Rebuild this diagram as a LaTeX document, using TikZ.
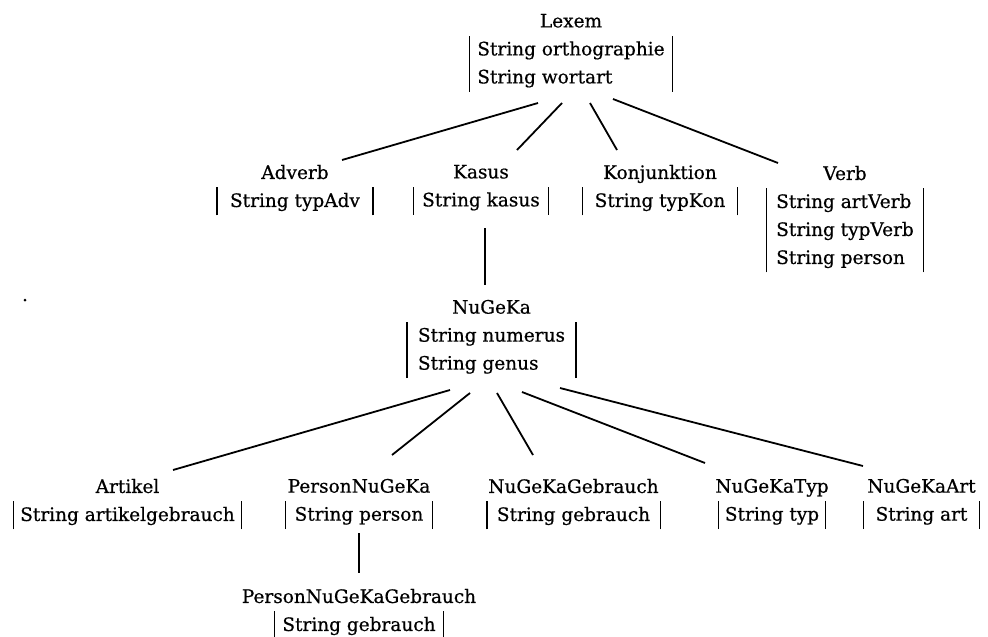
\documentclass[tikz,border=0pt]{standalone}
\usepackage{fontspec}
\setmainfont{DejaVu Serif}[FakeBold=0.6]
\setlength\arrayrulewidth{1.2pt}
% Attributkasten mit senkrechten Strichen links und rechts
\newcommand{\felder}[2]{{\setlength\tabcolsep{#1pt}\begin{tabular}[t]{|l|}#2\end{tabular}}}

\begin{document}
\begin{tikzpicture}[x=1pt, y=-1pt, line width=1.8pt,
	klasse/.style={anchor=north, inner sep=0pt, align=center, font=\fontsize{18.5}{28}\selectfont}]
	\useasboundingbox (0,0) rectangle (988,637);
	% Oberste Klasse
	\node[klasse] (lexem) at (571,13) {Lexem\\ \felder{8}{String orthographie\\ String wortart}};
	% Zweite Ebene
	\node[klasse] (adverb) at (295,164) {Adverb\\ \felder{13}{String typAdv}};
	\node[klasse] (kasus) at (481,164) {Kasus\\ \felder{9}{String kasus}};
	\node[klasse] (konjunktion) at (660,164) {Konjunktion\\ \felder{12}{String typKon}};
	\node[klasse] (verb) at (845,165) {Verb\\ \felder{10}{String artVerb\\ String typVerb\\ String person}};
	% Dritte Ebene
	\node[klasse] (nugeka) at (491.5,299) {NuGeKa\\ \felder{11}{String numerus\\ String genus}};
	% Vierte Ebene
	\node[klasse] (artikel) at (127.5,478) {Artikel\\ \felder{7}{String artikelgebrauch}};
	\node[klasse] (personnugeka) at (359,478) {PersonNuGeKa\\ \felder{9}{String person}};
	\node[klasse] (nugekagebrauch) at (573.5,478) {NuGeKaGebrauch\\ \felder{10}{String gebrauch}};
	\node[klasse] (nugekatyp) at (772,478) {NuGeKaTyp\\ \felder{6}{String typ}};
	\node[klasse] (nugekaart) at (921.5,478) {NuGeKaArt\\ \felder{12}{String art}};
	\node[klasse] (personnugekagebrauch) at (359,588) {PersonNuGeKaGebrauch\\ \felder{8}{String gebrauch}};
	% Punkt links
	\fill (25,300) circle (1.5);
	% Verbindungen
	\draw ([shift={(-33,90)}]lexem.north) -- ([shift={(47,-4)}]adverb.north);
	\draw ([shift={(-9,90)}]lexem.north) -- ([shift={(36,-14)}]kasus.north);
	\draw ([shift={(19,90)}]lexem.north) -- ([shift={(-43,-14)}]konjunktion.north);
	\draw ([shift={(42,86)}]lexem.north) -- ([shift={(-67,-2)}]verb.north);
	\draw ([shift={(4,64)}]kasus.north) -- ([shift={(-6.5,-14)}]nugeka.north);
	\draw ([shift={(-41.5,91)}]nugeka.north) -- ([shift={(45.5,-8)}]artikel.north);
	\draw ([shift={(-21.5,94)}]nugeka.north) -- ([shift={(33,-23)}]personnugeka.north);
	\draw ([shift={(5.5,94)}]nugeka.north) -- ([shift={(-40.5,-23)}]nugekagebrauch.north);
	\draw ([shift={(30.5,93)}]nugeka.north) -- ([shift={(-67,-15)}]nugekatyp.north);
	\draw ([shift={(68.5,89)}]nugeka.north) -- ([shift={(-58.5,-12)}]nugekaart.north);
	\draw ([shift={(0,55)}]personnugeka.north) -- ([shift={(0,-15)}]personnugekagebrauch.north);
\end{tikzpicture}
\end{document}
